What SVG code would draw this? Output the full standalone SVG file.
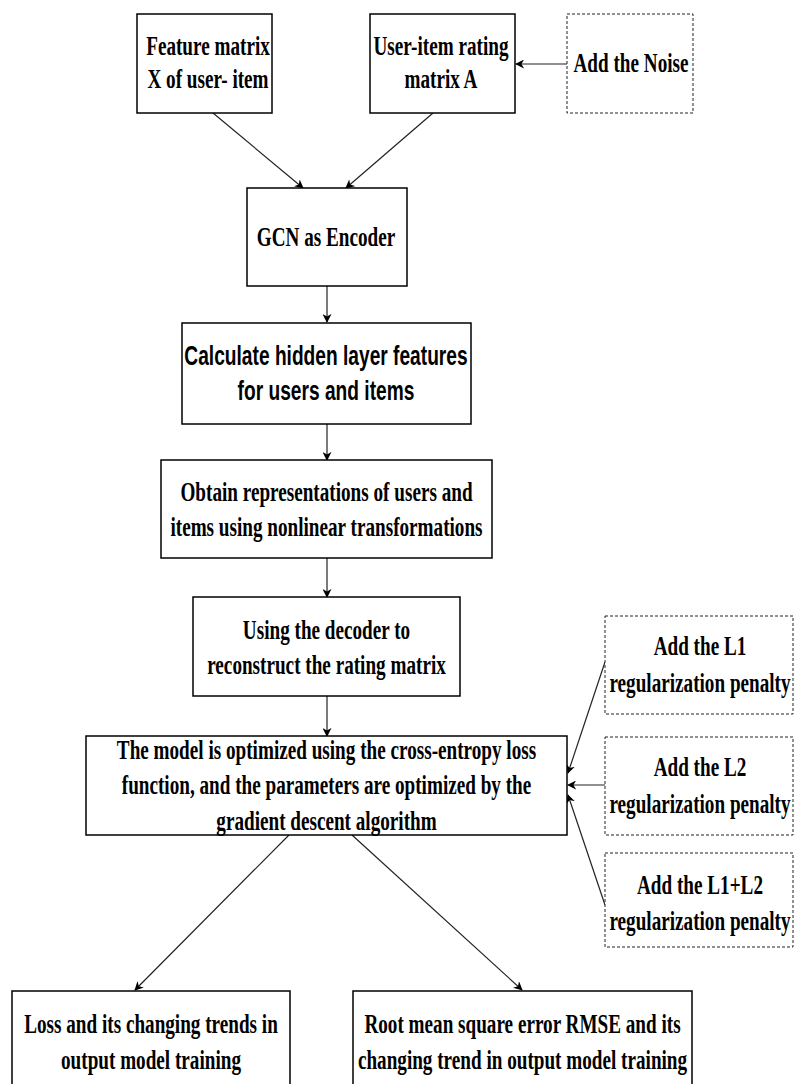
<svg xmlns="http://www.w3.org/2000/svg" width="794" height="1084" viewBox="0 0 794 1084">
<style>
.box{fill:#fff;stroke:#000;stroke-width:1.5}
.dbox{fill:#fff;stroke:#222;stroke-width:1;stroke-dasharray:3 2}
.t{font-family:"Liberation Serif","Times New Roman",serif;font-weight:bold;font-size:27px;fill:#000;text-anchor:middle}
.s{font-family:"Liberation Sans",Arial,sans-serif;font-weight:bold;font-size:27px;fill:#000;text-anchor:middle}
.c{fill:none;stroke:#222;stroke-width:1.2}
</style>
<defs>
<marker id="ah" viewBox="0 0 10 10" refX="9" refY="5" markerWidth="9" markerHeight="9" markerUnits="userSpaceOnUse" orient="auto">
<path d="M0,0 L10,5 L0,10 L3,5 z" fill="#000"/>
</marker>
</defs>
<rect width="794" height="1084" fill="#fff"/>

<g id="connectors">
<line class="c" x1="567" y1="64" x2="516" y2="64" marker-end="url(#ah)"/>
<line class="c" x1="213" y1="113" x2="303" y2="188" marker-end="url(#ah)"/>
<line class="c" x1="433" y1="113" x2="346" y2="188" marker-end="url(#ah)"/>
<line class="c" x1="327" y1="286" x2="327" y2="322" marker-end="url(#ah)"/>
<line class="c" x1="327" y1="424" x2="327" y2="460" marker-end="url(#ah)"/>
<line class="c" x1="327" y1="558" x2="327" y2="597" marker-end="url(#ah)"/>
<line class="c" x1="327" y1="696" x2="327" y2="736" marker-end="url(#ah)"/>
<line class="c" x1="605" y1="662" x2="568" y2="773" marker-end="url(#ah)"/>
<line class="c" x1="605" y1="785" x2="568" y2="785" marker-end="url(#ah)"/>
<line class="c" x1="605" y1="905" x2="568" y2="795" marker-end="url(#ah)"/>
<line class="c" x1="289" y1="835" x2="135" y2="990" marker-end="url(#ah)"/>
<line class="c" x1="352" y1="835" x2="522" y2="990" marker-end="url(#ah)"/>
</g>

<g id="feature">
<rect class="box" x="137" y="14" width="135" height="99"/>
<text class="t" transform="matrix(0.71 0 0 1 208 55)">Feature matrix</text>
<text class="t" transform="matrix(0.71 0 0 1 208 88)">X of user- item</text>
</g>
<g id="rating">
<rect class="box" x="370" y="14" width="145" height="99"/>
<text class="t" transform="matrix(0.71 0 0 1 441 55)">User-item rating</text>
<text class="t" transform="matrix(0.71 0 0 1 441 88)">matrix A</text>
</g>
<g id="noise">
<rect class="dbox" x="567" y="14" width="126" height="99"/>
<text class="t" transform="matrix(0.71 0 0 1 631 72)">Add the Noise</text>
</g>
<g id="gcn">
<rect class="box" x="247" y="188" width="160" height="98"/>
<text class="t" transform="matrix(0.71 0 0 1 326 246)">GCN as Encoder</text>
</g>
<g id="hidden">
<rect class="box" x="182" y="323" width="289" height="101"/>
<text class="s" transform="matrix(0.71 0 0 1 326 365)">Calculate hidden layer features</text>
<text class="s" transform="matrix(0.71 0 0 1 326 400)">for users and items</text>
</g>
<g id="obtain">
<rect class="box" x="161" y="460" width="331" height="98"/>
<text class="t" transform="matrix(0.71 0 0 1 326.5 501)">Obtain representations of users and</text>
<text class="t" transform="matrix(0.71 0 0 1 326.5 536)">items using nonlinear transformations</text>
</g>
<g id="decoder">
<rect class="box" x="193" y="597" width="267" height="99"/>
<text class="t" transform="matrix(0.71 0 0 1 326.5 639)">Using the decoder to</text>
<text class="t" transform="matrix(0.71 0 0 1 326.5 674)">reconstruct the rating matrix</text>
</g>
<g id="model">
<rect class="box" x="86" y="736" width="481" height="99"/>
<text class="t" transform="matrix(0.71 0 0 1 326.5 759)">The model is optimized using the cross-entropy loss</text>
<text class="t" transform="matrix(0.71 0 0 1 326.5 794)">function, and the parameters are optimized by the</text>
<text class="t" transform="matrix(0.71 0 0 1 326.5 830)">gradient descent algorithm</text>
</g>
<g id="l1">
<rect class="dbox" x="605" y="616" width="188" height="98"/>
<text class="t" transform="matrix(0.71 0 0 1 700 655)">Add the L1</text>
<text class="t" transform="matrix(0.71 0 0 1 700 692)">regularization penalty</text>
</g>
<g id="l2">
<rect class="dbox" x="605" y="737" width="188" height="98"/>
<text class="t" transform="matrix(0.71 0 0 1 700 776)">Add the L2</text>
<text class="t" transform="matrix(0.71 0 0 1 700 813)">regularization penalty</text>
</g>
<g id="l12">
<rect class="dbox" x="605" y="853" width="188" height="94"/>
<text class="t" transform="matrix(0.71 0 0 1 700 894)">Add the L1+L2</text>
<text class="t" transform="matrix(0.71 0 0 1 700 930)">regularization penalty</text>
</g>
<g id="loss">
<rect class="box" x="12" y="991" width="278" height="110"/>
<text class="t" transform="matrix(0.71 0 0 1 151 1033)">Loss and its changing trends in</text>
<text class="t" transform="matrix(0.71 0 0 1 151 1069)">output model training</text>
</g>
<g id="rmse">
<rect class="box" x="353" y="991" width="339" height="110"/>
<text class="t" transform="matrix(0.71 0 0 1 522.5 1033)">Root mean square error RMSE and its</text>
<text class="t" transform="matrix(0.71 0 0 1 522.5 1069)">changing trend in output model training</text>
</g>
</svg>
